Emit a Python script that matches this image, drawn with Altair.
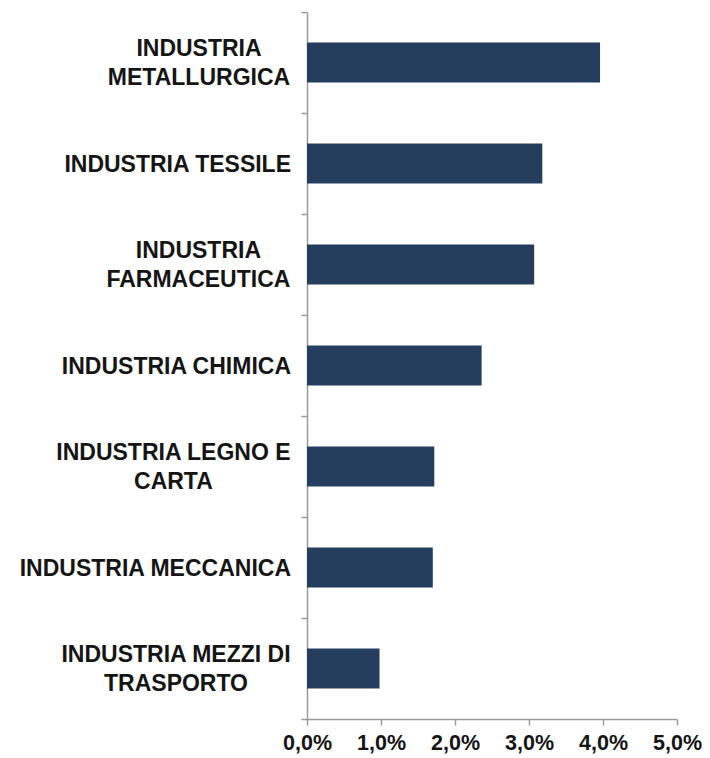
import altair as alt
import pandas as pd

categories = [
    "INDUSTRIA\nMETALLURGICA",
    "INDUSTRIA TESSILE",
    "INDUSTRIA\nFARMACEUTICA",
    "INDUSTRIA CHIMICA",
    "INDUSTRIA LEGNO E\nCARTA",
    "INDUSTRIA MECCANICA",
    "INDUSTRIA MEZZI DI\nTRASPORTO",
]
values = [0.0396, 0.0318, 0.0307, 0.0236, 0.0172, 0.0170, 0.0098]
x_ticks = [0.0, 0.01, 0.02, 0.03, 0.04, 0.05]

FONT = "Liberation Sans"
AXIS_COLOR = "#9a9a9a"
TEXT_COLOR = "#151515"
FS = 23
GAP = 16  # gap between label block and the axis line

# Arial/Liberation Sans Bold advance widths (em), used to centre the lines
# of a wrapped label inside its right-aligned block.
_W = {" ": 0.278, "A": 0.722, "C": 0.722, "D": 0.722, "E": 0.667, "F": 0.611,
      "G": 0.778, "I": 0.278, "L": 0.611, "M": 0.833, "N": 0.722, "O": 0.778,
      "P": 0.667, "R": 0.722, "S": 0.667, "T": 0.611, "U": 0.722, "Z": 0.611}


def block_centre(label):
    wmax = max(sum(_W.get(c, 0.65) for c in ln) for ln in label.split("\n"))
    return -GAP - wmax * FS / 2


df = pd.DataFrame({"cat": categories, "val": values})
df["nlines"] = [len(c.split("\n")) for c in categories]
df["cx"] = [block_centre(c) for c in categories]

y_enc = alt.Y(
    "cat:N",
    sort=categories,
    scale=alt.Scale(paddingInner=0, paddingOuter=0),
    axis=alt.Axis(
        title=None,
        labels=False,
        tickBand="extent",
        tickSize=6,
        tickColor=AXIS_COLOR,
        tickWidth=1.5,
        domainColor=AXIS_COLOR,
        domainWidth=1.5,
    ),
)

base = alt.Chart(df)

bars = base.mark_bar(color="#253E5E", size=40).encode(
    y=y_enc,
    x=alt.X(
        "val:Q",
        scale=alt.Scale(domain=[0, 0.05], nice=False),
        axis=alt.Axis(
            title=None,
            values=x_ticks,
            labelExpr="replace(format(datum.value, '.1%'), '.', ',')",
            labelFont=FONT,
            labelFontSize=21.5,
            labelFontWeight="bold",
            labelColor=TEXT_COLOR,
            labelPadding=7,
            labelFlush=False,
            labelOverlap=False,
            grid=False,
            tickSize=6,
            tickColor=AXIS_COLOR,
            tickWidth=1.5,
            domainColor=AXIS_COLOR,
            domainWidth=1.5,
        ),
    ),
)

text_style = dict(
    baseline="middle",
    font=FONT,
    fontSize=FS,
    fontWeight="bold",
    color=TEXT_COLOR,
    lineBreak="\n",
    lineHeight=29,
)

single = base.transform_filter("datum.nlines == 1").mark_text(
    align="right", dx=-GAP, dy=1, **text_style
).encode(
    y=alt.Y("cat:N", sort=categories),
    x=alt.value(0),
    text="cat:N",
)
multi = base.transform_filter("datum.nlines > 1").mark_text(
    align="center", dy=-13.5, **text_style
).encode(
    y=alt.Y("cat:N", sort=categories),
    x=alt.X("cx:Q", scale=None),
    text="cat:N",
)

chart = alt.layer(bars, single, multi).properties(
    width=370,
    height=707,
    autosize=alt.AutoSizeParams(type="none"),
    padding={"left": 299, "top": 4, "right": 25, "bottom": 36},
).configure_view(stroke=None)

chart.save("out.html", embed_options={"renderer": "svg", "actions": False})
